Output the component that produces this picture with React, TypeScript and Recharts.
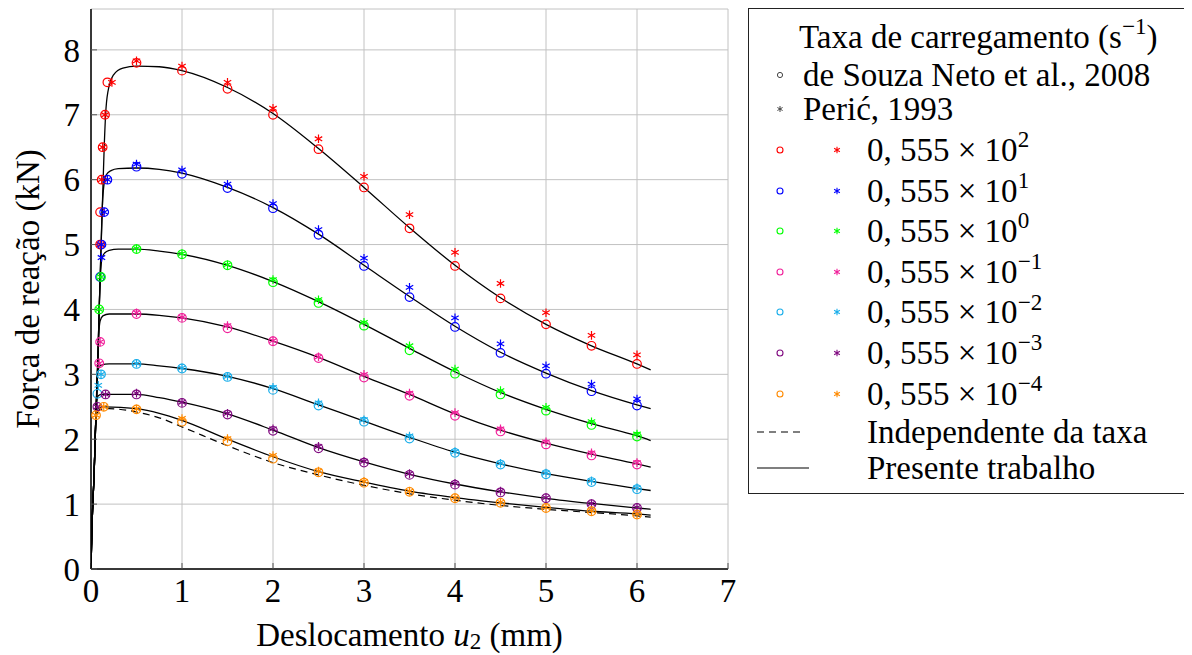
import React from "react";
import { ComposedChart, Line, Scatter, XAxis, YAxis, CartesianGrid } from "recharts";

type Pt = [number, number];

const FONT = "'Liberation Serif', 'Times New Roman', serif";
const FS = 33;

const X_TICKS = [0, 1, 2, 3, 4, 5, 6, 7];
const Y_TICKS = [0, 1, 2, 3, 4, 5, 6, 7, 8];
const Y_MAX = 8.63;

// loading rates 0,555 x 10^n
const RATE_EXP = ["2", "1", "0", "\u22121", "\u22122", "\u22123", "\u22124"];
const COLORS = ["#ff0000", "#0000ff", "#00ff00", "#f0209a", "#1aaeea", "#800a80", "#ff8a00"];

// abscissas of the markers after the elastic branch
const markX = [0.5, 1, 1.5, 2, 2.5, 3, 3.5, 4, 4.5, 5, 5.5, 6];

// de Souza Neto et al., 2008 (circles)
const souzaStart2: Pt[] = [[0.1, 5.0], [0.1, 5.5], [0.117, 6.0], [0.128, 6.5], [0.154, 7.0], [0.18, 7.5]];
const souza2 = [7.8, 7.68, 7.4, 7.0, 6.47, 5.88, 5.25, 4.67, 4.17, 3.77, 3.44, 3.16];
const souzaStart1: Pt[] = [[0.1, 4.5], [0.115, 5.0], [0.145, 5.5], [0.18, 6.0]];
const souza1 = [6.2, 6.09, 5.87, 5.56, 5.15, 4.67, 4.19, 3.73, 3.33, 3.01, 2.74, 2.52];
const souzaStart0: Pt[] = [[0.09, 4.0], [0.11, 4.5]];
const souza0 = [4.93, 4.85, 4.68, 4.42, 4.1, 3.75, 3.37, 3.01, 2.69, 2.44, 2.22, 2.04];
const souzaStartM1: Pt[] = [[0.09, 3.17], [0.1, 3.5]];
const souzaM1 = [3.93, 3.87, 3.71, 3.51, 3.25, 2.95, 2.67, 2.36, 2.12, 1.92, 1.75, 1.61];
const souzaStartM2: Pt[] = [[0.07, 2.7], [0.11, 3.0]];
const souzaM2 = [3.16, 3.09, 2.96, 2.76, 2.52, 2.27, 2.01, 1.79, 1.61, 1.46, 1.34, 1.23];
const souzaStartM3: Pt[] = [[0.07, 2.5], [0.16, 2.69]];
const souzaM3 = [2.69, 2.56, 2.38, 2.13, 1.86, 1.64, 1.45, 1.3, 1.18, 1.09, 1.0, 0.94];
const souzaStartM4: Pt[] = [[0.055, 2.37], [0.14, 2.5]];
const souzaM4 = [2.46, 2.27, 1.97, 1.7, 1.49, 1.33, 1.19, 1.09, 1.02, 0.94, 0.89, 0.84];

// Peric, 1993 (asterisks)
const pericStart2: Pt[] = [[0.1, 5.0], [0.117, 6.0], [0.128, 6.5], [0.154, 7.0], [0.23, 7.5]];
const peric2 = [7.83, 7.75, 7.5, 7.1, 6.63, 6.05, 5.46, 4.88, 4.4, 3.95, 3.6, 3.3];
const pericStart1: Pt[] = [[0.115, 4.8], [0.115, 5.0], [0.145, 5.5], [0.18, 6.0]];
const peric1 = [6.24, 6.15, 5.93, 5.63, 5.23, 4.79, 4.34, 3.87, 3.47, 3.13, 2.85, 2.62];
const pericStart0: Pt[] = [[0.09, 4.0], [0.11, 4.5]];
const peric0 = [4.94, 4.86, 4.69, 4.46, 4.15, 3.8, 3.44, 3.08, 2.75, 2.49, 2.27, 2.08];
const pericStartM1: Pt[] = [[0.09, 3.17], [0.1, 3.5]];
const pericM1 = [3.95, 3.88, 3.75, 3.52, 3.27, 3.0, 2.71, 2.41, 2.16, 1.96, 1.79, 1.64];
const pericStartM2: Pt[] = [[0.08, 2.83], [0.11, 3.0]];
const pericM2 = [3.17, 3.1, 2.97, 2.8, 2.56, 2.3, 2.05, 1.81, 1.63, 1.48, 1.36, 1.25];
const pericStartM3: Pt[] = [[0.07, 2.5], [0.16, 2.69]];
const pericM3 = [2.71, 2.57, 2.4, 2.16, 1.89, 1.66, 1.47, 1.32, 1.2, 1.1, 1.01, 0.95];
const pericStartM4: Pt[] = [[0.055, 2.37], [0.14, 2.5]];
const pericM4 = [2.47, 2.32, 2.01, 1.75, 1.51, 1.35, 1.2, 1.1, 1.03, 0.95, 0.9, 0.85];

// Presente trabalho (solid curves)
const elastic: Pt[] = [[0, 0], [0.01, 0.6], [0.035, 1.5], [0.055, 2.4], [0.075, 3.2], [0.09, 4.0], [0.105, 4.7], [0.125, 5.6], [0.145, 6.5]];
const curveX = [0.75, 1, 1.5, 2, 2.5, 3, 3.5, 4, 4.5, 5, 5.5, 6, 6.15];
const knee2: Pt[] = [[0.165, 7.1], [0.2, 7.45], [0.25, 7.62], [0.35, 7.72], [0.5, 7.75]];
const pres2 = [7.74, 7.68, 7.42, 7.02, 6.48, 5.88, 5.26, 4.68, 4.18, 3.77, 3.44, 3.16, 3.07];
const knee1: Pt[] = [[0.145, 5.95], [0.17, 6.08], [0.22, 6.14], [0.3, 6.17], [0.5, 6.18]];
const pres1 = [6.16, 6.1, 5.88, 5.57, 5.16, 4.68, 4.2, 3.74, 3.34, 3.02, 2.75, 2.53, 2.47];
const knee0: Pt[] = [[0.105, 4.55], [0.12, 4.78], [0.15, 4.87], [0.2, 4.91], [0.3, 4.93], [0.5, 4.93]];
const pres0 = [4.9, 4.85, 4.68, 4.43, 4.12, 3.77, 3.4, 3.04, 2.72, 2.46, 2.24, 2.05, 1.98];
const kneeM1: Pt[] = [[0.085, 3.6], [0.1, 3.82], [0.13, 3.9], [0.2, 3.93], [0.5, 3.93]];
const presM1 = [3.91, 3.87, 3.73, 3.51, 3.26, 2.97, 2.69, 2.39, 2.14, 1.94, 1.77, 1.62, 1.57];
const kneeM2: Pt[] = [[0.065, 2.85], [0.08, 3.08], [0.11, 3.14], [0.2, 3.16], [0.5, 3.16]];
const presM2 = [3.13, 3.09, 2.97, 2.78, 2.53, 2.28, 2.03, 1.8, 1.62, 1.47, 1.35, 1.24, 1.21];
const kneeM3: Pt[] = [[0.065, 2.6], [0.08, 2.67], [0.12, 2.69], [0.5, 2.69]];
const presM3 = [2.64, 2.57, 2.39, 2.14, 1.87, 1.65, 1.46, 1.31, 1.19, 1.09, 1.01, 0.94, 0.92];
const kneeM4: Pt[] = [[0.05, 2.2], [0.065, 2.42], [0.09, 2.49], [0.15, 2.5], [0.5, 2.47]];
const presM4 = [2.4, 2.29, 2.0, 1.73, 1.5, 1.34, 1.2, 1.1, 1.02, 0.95, 0.89, 0.85, 0.83];

// Independente da taxa (dashed)
const kneeInd: Pt[] = [[0.05, 2.2], [0.07, 2.4], [0.1, 2.46], [0.2, 2.47], [0.5, 2.42]];
const presInd = [2.33, 2.19, 1.9, 1.64, 1.45, 1.29, 1.16, 1.06, 0.98, 0.92, 0.87, 0.82, 0.8];

const toObj = (pts: Pt[]) => pts.map(([x, y]) => ({ x, y }));
const markers = (start: Pt[], ys: number[]) => toObj([...start, ...markX.map((x, i) => [x, ys[i]] as Pt)]);
const curve = (knee: Pt[], ys: number[]) =>
  toObj([...elastic.filter((p) => p[0] < knee[0][0]), ...knee, ...curveX.map((x, i) => [x, ys[i]] as Pt)]);

const souzaData = [
  markers(souzaStart2, souza2),
  markers(souzaStart1, souza1),
  markers(souzaStart0, souza0),
  markers(souzaStartM1, souzaM1),
  markers(souzaStartM2, souzaM2),
  markers(souzaStartM3, souzaM3),
  markers(souzaStartM4, souzaM4),
];
const pericData = [
  markers(pericStart2, peric2),
  markers(pericStart1, peric1),
  markers(pericStart0, peric0),
  markers(pericStartM1, pericM1),
  markers(pericStartM2, pericM2),
  markers(pericStartM3, pericM3),
  markers(pericStartM4, pericM4),
];
const presData = [
  curve(knee2, pres2),
  curve(knee1, pres1),
  curve(knee0, pres0),
  curve(kneeM1, presM1),
  curve(kneeM2, presM2),
  curve(kneeM3, presM3),
  curve(kneeM4, presM4),
];
const indData = curve(kneeInd, presInd);

const circleShape = (color: string, r = 4.3) => (p: any) =>
  <circle cx={p.cx} cy={p.cy} r={r} fill="none" stroke={color} strokeWidth={1.2} />;

const starPath = (cx: number, cy: number, r: number) => {
  const dx = r * Math.cos(Math.PI / 6);
  const dy = r * Math.sin(Math.PI / 6);
  return `M${cx},${cy - r}L${cx},${cy + r}M${cx - dx},${cy - dy}L${cx + dx},${cy + dy}M${cx - dx},${cy + dy}L${cx + dx},${cy - dy}`;
};
const starShape = (color: string, r = 4.3) => (p: any) =>
  <path d={starPath(p.cx, p.cy, r)} fill="none" stroke={color} strokeWidth={1.2} />;

const XLabel = (props: any) => {
  const { x, y, width } = props.viewBox;
  return (
    <text x={x + width / 2} y={y + 66} textAnchor="middle" dominantBaseline="central" fontSize={FS} fontFamily={FONT} fill="#000">
      <tspan>Deslocamento </tspan>
      <tspan fontStyle="italic">u</tspan>
      <tspan fontSize={FS * 0.7} dy={6}>2</tspan>
      <tspan dy={-6}> (mm)</tspan>
    </text>
  );
};

const YLabel = (props: any) => {
  const { y, height } = props.viewBox;
  const cy = y + height / 2;
  return (
    <text x={20} y={cy} transform={`rotate(-90, 20, ${cy})`} textAnchor="middle" dominantBaseline="central" fontSize={FS} fontFamily={FONT} fill="#000">
      Força de reação (kN)
    </text>
  );
};

const Sup = ({ children }: any) => (
  <span style={{ fontSize: "0.7em", position: "relative", top: "-0.6em" }}>{children}</span>
);

const Mini = ({ children }: any) => (
  <svg width={14} height={14} style={{ position: "absolute", top: 13 }}>{children}</svg>
);

function LegendBox() {
  const row = (top: number, left: number, content: React.ReactNode) => (
    <div style={{ position: "absolute", top: top - 20, left, height: 40, lineHeight: "40px", whiteSpace: "nowrap" }}>{content}</div>
  );
  return (
    <div
      style={{
        position: "absolute", left: 740, top: 0, width: 440, height: 486, boxSizing: "border-box",
        border: "1.5px solid #222", background: "#fff", fontFamily: FONT, fontSize: FS, color: "#000",
      }}
    >
      {row(28, 50, <span>Taxa de carregamento (s<Sup>{"\u22121"}</Sup>)</span>)}
      {row(66, 54, <span>de Souza Neto et al., 2008</span>)}
      {row(100, 54, <span>Perić, 1993</span>)}
      <div style={{ position: "absolute", left: 24, top: 66 - 20, width: 14, height: 40 }}>
        <Mini><circle cx={7} cy={7} r={2.6} fill="none" stroke="#444" strokeWidth={1} /></Mini>
      </div>
      <div style={{ position: "absolute", left: 24, top: 100 - 20, width: 14, height: 40 }}>
        <Mini><path d={starPath(7, 7, 3)} stroke="#444" strokeWidth={1} /></Mini>
      </div>
      {RATE_EXP.map((e, i) => {
        const cy = 141 + i * 40.6;
        return (
          <React.Fragment key={e}>
            <div style={{ position: "absolute", left: 24, top: cy - 20, width: 14, height: 40 }}>
              <Mini><circle cx={7} cy={7} r={3} fill="none" stroke={COLORS[i]} strokeWidth={1.1} /></Mini>
            </div>
            <div style={{ position: "absolute", left: 81, top: cy - 20, width: 14, height: 40 }}>
              <Mini><path d={starPath(7, 7, 3.3)} stroke={COLORS[i]} strokeWidth={1.1} /></Mini>
            </div>
            {row(cy, 118, <span>0, 555 × 10<Sup>{e}</Sup></span>)}
          </React.Fragment>
        );
      })}
      <svg width={60} height={10} style={{ position: "absolute", left: 6, top: 418 }}>
        <line x1={2} y1={5} x2={48} y2={5} stroke="#000" strokeWidth={1.2} strokeDasharray="7 5" />
      </svg>
      {row(423, 118, <span>Independente da taxa</span>)}
      <svg width={60} height={10} style={{ position: "absolute", left: 6, top: 454 }}>
        <line x1={2} y1={5} x2={54} y2={5} stroke="#000" strokeWidth={1.2} />
      </svg>
      {row(459, 118, <span>Presente trabalho</span>)}
    </div>
  );
}

export default function App() {
  const tickStyle = { fill: "#000", fontSize: FS, fontFamily: FONT };
  return (
    <div style={{ position: "relative", width: 1180, height: 647 }}>
      <ComposedChart width={740} height={647} margin={{ top: 1, right: 20, bottom: 0, left: 0 }} style={{ fontFamily: FONT }}>
        <CartesianGrid stroke="#c2c2c2" strokeWidth={1} />
        <XAxis
          dataKey="x" type="number" domain={[0, 7]} ticks={X_TICKS} allowDataOverflow
          height={86} tickSize={-6} tickMargin={16} tick={tickStyle}
          axisLine={{ stroke: "#000", strokeWidth: 1.5 }} tickLine={{ stroke: "#555" }}
          label={<XLabel />}
        />
        <XAxis
          xAxisId="top" orientation="top" type="number" domain={[0, 7]} ticks={X_TICKS} allowDataOverflow
          height={0} tickSize={-6} tick={false}
          axisLine={{ stroke: "#000", strokeWidth: 1.5 }} tickLine={{ stroke: "#555" }}
        />
        <YAxis
          dataKey="y" type="number" domain={[0, Y_MAX]} ticks={Y_TICKS} allowDataOverflow
          width={83} tickSize={-6} tickMargin={17} tick={tickStyle}
          axisLine={{ stroke: "#000", strokeWidth: 1.5 }} tickLine={{ stroke: "#555" }}
          label={<YLabel />}
        />
        <YAxis
          yAxisId="right" orientation="right" type="number" domain={[0, Y_MAX]} ticks={Y_TICKS} allowDataOverflow
          width={0} tickSize={-6} tick={false}
          axisLine={{ stroke: "#000", strokeWidth: 1.5 }} tickLine={{ stroke: "#555" }}
        />
        <Line
          data={indData} dataKey="y" type="monotone" stroke="#000" strokeWidth={1.2}
          strokeDasharray="7 5" dot={false} isAnimationActive={false}
        />
        {presData.map((d, i) => (
          <Line key={`p${i}`} data={d} dataKey="y" type="monotone" stroke="#000" strokeWidth={1.3} dot={false} isAnimationActive={false} />
        ))}
        {souzaData.map((d, i) => (
          <Scatter key={`s${i}`} data={d} dataKey="y" shape={circleShape(COLORS[i])} isAnimationActive={false} />
        ))}
        {pericData.map((d, i) => (
          <Scatter key={`r${i}`} data={d} dataKey="y" shape={starShape(COLORS[i])} isAnimationActive={false} />
        ))}
      </ComposedChart>
      <LegendBox />
    </div>
  );
}
